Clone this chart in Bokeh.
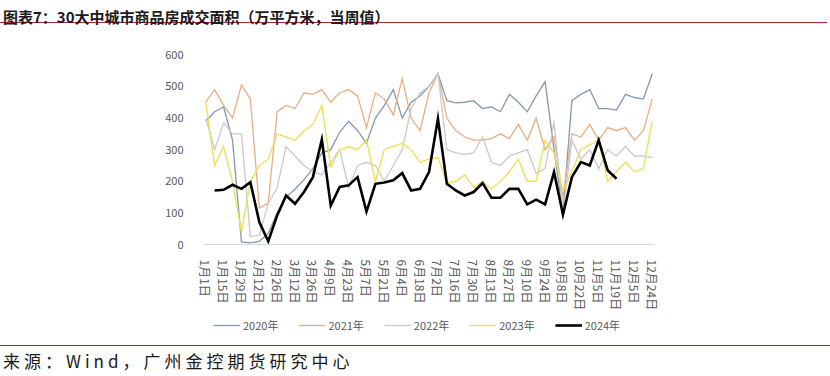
from bokeh.plotting import figure
from bokeh.layouts import column
from bokeh.models import Legend, LegendItem, FixedTicker, Range1d, Div
from bokeh.embed import file_html
from bokeh.resources import INLINE

# ---------------- data ----------------
title_text = "图表7：30大中城市商品房成交面积（万平方米，当周值）"
source_text = "来源：Wind，广州金控期货研究中心"
tick_labels = ["1月1日", "1月15日", "1月29日", "2月12日", "2月26日", "3月12日", "3月26日",
               "4月9日", "4月23日", "5月7日", "5月21日", "6月4日", "6月18日", "7月2日",
               "7月16日", "7月30日", "8月13日", "8月27日", "9月10日", "9月24日", "10月8日",
               "10月22日", "11月5日", "11月19日", "12月5日", "12月24日"]

s2020 = [390, 420, 435, 330, 8, 5, 10, 35, 100, 150, 175, 205, 240, 290, 300, 355, 390, 360, 320,
         400, 440, 490, 400, 450, 470, 500, 540, 455, 448, 450, 455, 430, 435, 420, 475, 450, 420,
         470, 515, 300, 100, 455, 475, 490, 430, 430, 425, 475, 465, 460, 540]
s2021 = [450, 490, 440, 400, 505, 460, 115, 130, 420, 440, 430, 480, 475, 490, 450, 480, 490, 470,
         370, 480, 460, 410, 525, 400, 360, 480, 540, 400, 360, 340, 330, 330, 335, 350, 335, 380,
         330, 400, 300, 340, 150, 350, 340, 380, 330, 370, 360, 370, 330, 360, 460]
s2022 = [400, 300, 385, 350, 350, 25, 30, 130, 180, 310, 280, 250, 230, 220, 260, 300, 180, 250,
         260, 250, 200, 250, 300, 430, 480, 500, 540, 300, 290, 285, 290, 340, 260, 250, 280, 290,
         300, 225, 240, 385, 100, 330, 270, 300, 240, 300, 280, 310, 280, 280, 275]
s2023 = [450, 250, 310, 200, 40, 200, 250, 270, 350, 340, 330, 360, 380, 440, 245, 300, 310, 300,
         330, 200, 300, 310, 320, 300, 260, 270, 275, 195, 200, 220, 180, 200, 175, 200, 230, 270,
         200, 200, 330, 290, 170, 230, 300, 315, 330, 200, 230, 260, 230, 240, 390]
# 2024 starts one week after the first category
s2024_start = 1
s2024 = [171, 173, 189, 176, 197, 71, 10, 92, 155, 129, 166, 213, 332, 123, 182, 187, 213, 104,
         192, 196, 203, 226, 171, 176, 229, 398, 192, 171, 155, 166, 194, 148, 148, 176, 176, 127,
         142, 127, 229, 95, 213, 261, 250, 330, 235, 208]
series_names = ["2020年", "2021年", "2022年", "2023年", "2024年"]
y_ticks = [0, 100, 200, 300, 400, 500, 600]

RED = "#B0262B"
FONT = "Noto Sans CJK SC"
W = 830
BL, BR = 203, 176
styles = [("#8497B0", 1.3), ("#E8AD84", 1.3), ("#C9C9CF", 1.3), ("#EEDF5C", 1.4), ("#000000", 2.6)]

# ---------------- title strip ----------------
title_div = Div(
    text=(f'<div style="width:{W - 3}px;height:23px;padding:7px 0 0 3px;line-height:20px;'
          f'white-space:nowrap;font-family:\'{FONT}\';font-weight:bold;font-size:15px;'
          f'color:#1A1A1A;border-bottom:1.5px solid {RED};">{title_text}</div>'),
    width=W, height=32, margin=(0, 0, 0, 0))

# ---------------- main chart ----------------
n = len(s2020)
xs = list(range(n))

p = figure(width=W, height=281, output_backend="svg", toolbar_location=None,
           x_range=Range1d(-0.25, n - 1 + 0.25), y_range=Range1d(0, 620),
           min_border_left=BL, min_border_right=BR, min_border_top=16, min_border_bottom=69,
           margin=(0, 0, 0, 0))
p.outline_line_color = None
p.grid.grid_line_color = None
p.background_fill_color = "white"
p.border_fill_color = "white"

starts = [0, 0, 0, 0, s2024_start]
for data, st, (col, lw) in zip([s2020, s2021, s2022, s2023, s2024], starts, styles):
    p.line(xs[st:st + len(data)], data, line_color=col, line_width=lw, line_join="miter")

p.yaxis.ticker = FixedTicker(ticks=y_ticks)
p.yaxis.axis_line_color = None
p.yaxis.major_tick_line_color = None
p.yaxis.minor_tick_line_color = None
p.yaxis.major_label_standoff = 14
p.yaxis.major_label_text_font = FONT
p.yaxis.major_label_text_font_size = "11px"
p.yaxis.major_label_text_color = "#595959"

tick_pos = list(range(0, n, 2))
p.xaxis.ticker = FixedTicker(ticks=tick_pos)
p.xaxis.major_label_overrides = {t: lab for t, lab in zip(tick_pos, tick_labels)}
p.xaxis.major_label_orientation = "vertical"
p.xaxis.axis_line_color = "#D9D9D9"
p.xaxis.axis_line_width = 1
p.xaxis.major_tick_line_color = None
p.xaxis.minor_tick_line_color = None
p.xaxis.major_label_standoff = 9
p.xaxis.major_label_text_font = FONT
p.xaxis.major_label_text_font_size = "12px"
p.xaxis.major_label_text_color = "#595959"

# ---------------- legend strip (same borders as the chart) ----------------
lg = figure(width=W, height=32, output_backend="svg", toolbar_location=None,
            x_range=Range1d(0, 1), y_range=Range1d(0, 1), x_axis_type=None, y_axis_type=None,
            min_border_left=BL, min_border_right=BR, min_border_top=0, min_border_bottom=0,
            margin=(0, 0, 0, 0))
lg.outline_line_color = None
lg.grid.grid_line_color = None
lg.border_fill_color = "white"
lg.background_fill_color = "white"
nan = float("nan")
keys = [lg.line(x=[nan], y=[nan], line_color=col, line_width=lw) for col, lw in styles]
legend = Legend(items=[LegendItem(label=nm, renderers=[r]) for nm, r in zip(series_names, keys)],
                orientation="horizontal", location=(10, 10),
                glyph_width=27, glyph_height=20, label_standoff=3, spacing=20,
                padding=0, margin=0, border_line_color=None, background_fill_alpha=0,
                label_text_font=FONT, label_text_font_size="11px",
                label_text_color="#595959")
lg.add_layout(legend)

# ---------------- source strip ----------------
source_div = Div(
    text=(f'<div style="width:{W}px;height:31px;padding:5px 0 0 3px;line-height:20px;'
          f'white-space:nowrap;font-family:\'{FONT}\';font-size:17px;color:#1A1A1A;'
          f'letter-spacing:4px;border-top:1px solid {RED};box-sizing:border-box;">'
          f'{source_text}</div>'),
    width=W, height=31, margin=(0, 0, 0, 0))

layout = column(title_div, p, lg, source_div, spacing=0)
open("out.html", "w").write(file_html(layout, INLINE))
